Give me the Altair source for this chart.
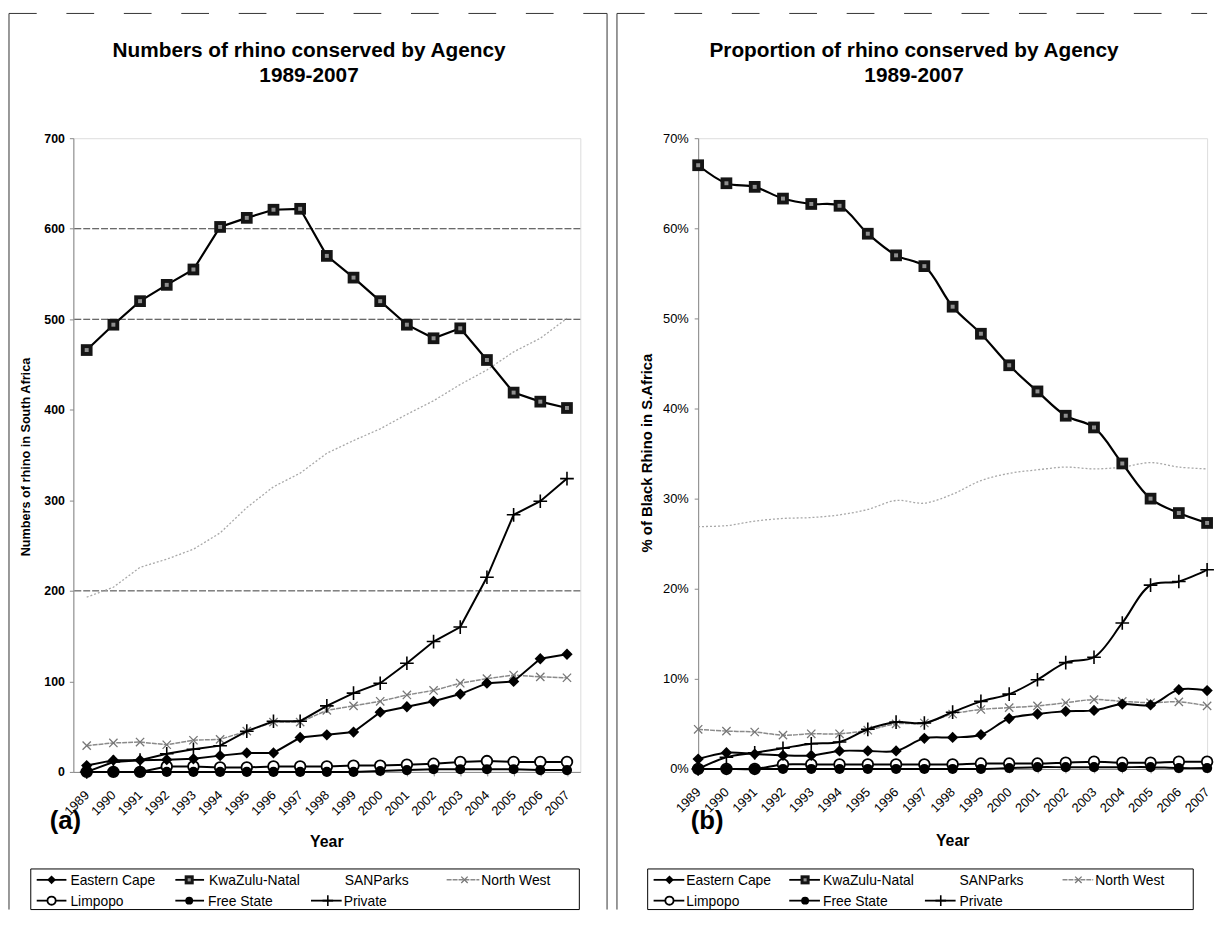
import altair as alt
import pandas as pd

# ---------------- data ----------------
years = ["1989", "1990", "1991", "1992", "1993", "1994", "1995", "1996", "1997", "1998",
         "1999", "2000", "2001", "2002", "2003", "2004", "2005", "2006", "2007"]
agencies = ["Eastern Cape", "KwaZulu-Natal", "SANParks", "North West", "Limpopo", "Free State", "Private"]

# panel (a): numbers of rhino
a_eastern_cape = [7, 13, 13, 13.5, 14.5, 18, 21, 21, 38, 41, 44, 66, 72, 78, 86, 98, 100, 125, 130]
a_kwazulu_natal = [466, 494, 520, 538, 555, 602, 612, 621, 622, 570, 546, 520, 494, 479, 490, 455, 419, 409, 402]
a_sanparks = [193, 204, 226, 235, 246, 264, 292, 315, 330, 352, 366, 379, 395, 410, 428, 444, 464, 479, 501]
a_north_west = [29, 32, 33, 30, 35, 36, 45, 55, 55, 68, 73, 78, 85, 90, 98, 103, 107, 105, 104]
a_limpopo = [0, 0, 0, 6, 6, 5, 5, 6, 6, 6, 7, 7, 8, 9, 11, 12, 11, 11, 11]
a_free_state = [0, 0, 0, 0, 0, 0, 0, 0, 0, 0, 0, 1, 2, 3, 3, 3, 3, 2, 2]
a_private = [0, 11, 13, 20, 25, 29, 45, 56, 56, 73, 87, 98, 120, 144, 160, 215, 284, 299, 324]

# panel (b): % of black rhino in S.Africa
b_eastern_cape = [1.1, 1.8, 1.65, 1.5, 1.5, 2.0, 2.0, 2.0, 3.4, 3.5, 3.8, 5.6, 6.1, 6.4, 6.5, 7.2, 7.1, 8.8, 8.7]
b_kwazulu_natal = [67.0, 65.0, 64.6, 63.3, 62.7, 62.5, 59.4, 57.0, 55.8, 51.3, 48.3, 44.8, 41.9, 39.2, 37.9, 33.9, 30.0, 28.4, 27.3]
b_sanparks = [26.9, 27.0, 27.5, 27.8, 27.9, 28.2, 28.8, 29.8, 29.5, 30.5, 32.0, 32.8, 33.2, 33.5, 33.3, 33.5, 34.0, 33.5, 33.3]
b_north_west = [4.4, 4.2, 4.1, 3.75, 3.9, 3.9, 4.3, 5.0, 5.1, 6.1, 6.6, 6.8, 7.0, 7.35, 7.7, 7.5, 7.35, 7.45, 7.0]
b_limpopo = [0, 0, 0, 0.5, 0.5, 0.5, 0.5, 0.5, 0.5, 0.5, 0.6, 0.6, 0.6, 0.7, 0.8, 0.7, 0.7, 0.8, 0.8]
b_free_state = [0, 0, 0, 0, 0, 0, 0, 0, 0, 0, 0, 0.1, 0.2, 0.2, 0.2, 0.2, 0.2, 0.1, 0.1]
b_private = [0, 1.3, 1.8, 2.3, 2.8, 3.0, 4.4, 5.2, 5.1, 6.3, 7.5, 8.3, 9.9, 11.8, 12.4, 16.2, 20.4, 20.8, 22.1]

a_ticks = [0, 100, 200, 300, 400, 500, 600, 700]
a_grid = [200, 500, 600]
b_ticks = [0, 10, 20, 30, 40, 50, 60, 70]

title_a = "Numbers of rhino conserved by Agency"
title_b = "Proportion of rhino conserved by Agency"
subtitle = "1989-2007"

# ---------------- styling ----------------
FONT = "Liberation Sans"
PLUS = "M-1,0L1,0M0,-1L0,1"
XSHAPE = "M-1,-1L1,1M-1,1L1,-1"

line_style = {
    "SANParks": dict(color="#a8a8a8", strokeWidth=1.3, strokeDash=[2, 2]),
    "North West": dict(color="#8a8a8a", strokeWidth=1.5, strokeDash=[5, 1]),
    "Limpopo": dict(color="black", strokeWidth=2),
    "Free State": dict(color="black", strokeWidth=2),
    "Eastern Cape": dict(color="black", strokeWidth=2),
    "Private": dict(color="black", strokeWidth=2),
    "KwaZulu-Natal": dict(color="black", strokeWidth=2.2),
}
point_style = {
    "North West": [dict(shape=XSHAPE, filled=False, color="#777777", size=70, strokeWidth=1.3, opacity=1)],
    "Limpopo": [dict(shape="circle", filled=True, fill="white", stroke="black", strokeWidth=1.8, size=115, opacity=1)],
    "Free State": [dict(shape="circle", filled=True, color="black", size=105, opacity=1)],
    "Eastern Cape": [dict(shape="diamond", filled=True, color="black", size=130, opacity=1)],
    "Private": [dict(shape=PLUS, filled=False, color="black", size=190, strokeWidth=1.6, opacity=1)],
    "KwaZulu-Natal": [dict(shape="square", filled=True, color="#151515", size=140, opacity=1),
                      dict(shape="square", filled=True, color="#8f8f8f", size=16, opacity=1)],
}
draw_order = ["SANParks", "North West", "Limpopo", "Free State", "Eastern Cape", "Private", "KwaZulu-Natal"]

ONE = pd.DataFrame({"k": [0]})


def long_df(series):
    rows = []
    for name, vals in zip(agencies, series):
        for yr, v in zip(years, vals):
            rows.append({"Year": yr, "Agency": name, "Value": v})
    return pd.DataFrame(rows)


def txt(s, x, y, size, weight="normal", angle=0, align="center", baseline="middle"):
    return alt.Chart(ONE).mark_text(text=s, fontSize=size, fontWeight=weight, angle=angle, align=align,
                                    baseline=baseline, font=FONT, color="black").encode(
        x=alt.value(x), y=alt.value(y))


def vrule(x, y1, y2, color="#333333", w=1.0, dash=None):
    kw = dict(color=color, strokeWidth=w)
    if dash:
        kw["strokeDash"] = dash
    return alt.Chart(ONE).mark_rule(**kw).encode(x=alt.value(x), y=alt.value(y1), y2=alt.value(y2))


def hrule(x1, x2, y, color="#333333", w=1.0, dash=None):
    kw = dict(color=color, strokeWidth=w)
    if dash:
        kw["strokeDash"] = dash
    return alt.Chart(ONE).mark_rule(**kw).encode(x=alt.value(x1), x2=alt.value(x2), y=alt.value(y))


def legend_layers(box, items_pos, row_y):
    x1, x2, y1, y2 = box
    out = [alt.Chart(ONE).mark_rect(fill="white", stroke="black", strokeWidth=1).encode(
        x=alt.value(x1), x2=alt.value(x2), y=alt.value(y1), y2=alt.value(y2))]
    for name in agencies:
        row, lx1, lx2, mx, tx = items_pos[name]
        y = row_y[row]
        if lx1 is not None:
            ls = dict(line_style[name])
            ls["strokeWidth"] = min(ls["strokeWidth"], 1.8)
            out.append(alt.Chart(ONE).mark_rule(**ls).encode(x=alt.value(lx1), x2=alt.value(lx2), y=alt.value(y)))
        if name in point_style and mx is not None:
            for ps in point_style[name]:
                p = dict(ps)
                p["size"] = p["size"] * 0.6
                out.append(alt.Chart(ONE).mark_point(**p).encode(x=alt.value(mx), y=alt.value(y)))
        out.append(txt(name, tx, y + 1, 14, align="left"))
    return out


def panel(series, width, height, ydomain, yticks, label_expr, pad, interp, grid, deco,
          ylab_size, ylab_weight, ylab_pad):
    df = long_df(series)
    x_enc = alt.X("Year:O", sort=years, scale=alt.Scale(type="point", padding=pad),
                  axis=alt.Axis(title=None, labelAngle=-45, labelAlign="right", labelBaseline="middle",
                                labelPadding=17, labelOverlap=False, labelFontSize=13, tickSize=4))
    y_enc = alt.Y("Value:Q", scale=alt.Scale(domain=ydomain, nice=False, zero=True),
                  axis=alt.Axis(title=None, values=yticks, labelExpr=label_expr, labelFontSize=ylab_size,
                                labelFontWeight=ylab_weight, tickSize=4, labelPadding=ylab_pad, grid=False))
    layers = []
    if grid:
        gdf = pd.DataFrame({"Value": grid})
        layers.append(alt.Chart(gdf).mark_rule(color="#3a3a3a", strokeWidth=1, strokeDash=[7, 2]).encode(y=y_enc))
    for name in draw_order:
        d = df[df.Agency == name]
        layers.append(alt.Chart(d).mark_line(interpolate=interp, **line_style[name]).encode(x=x_enc, y=y_enc))
        for ps in point_style.get(name, []):
            layers.append(alt.Chart(d).mark_point(**ps).encode(x=x_enc, y=y_enc))
    layers += deco
    return alt.layer(*layers).properties(width=width, height=height)


# ---------------- panel (a) ----------------
row_a = {1: 749, 2: 770}
legend_a = {
    "Eastern Cape": (1, -37, -7, -22, -3),
    "KwaZulu-Natal": (1, 103, 132, 117, 137),
    "SANParks": (1, None, None, None, 274),
    "North West": (1, 377, 410, 395, 412),
    "Limpopo": (2, -37, -7, -22, -3),
    "Free State": (2, 103, 132, 117, 136),
    "Private": (2, 240, 271, 257, 273),
}
deco_a = [
    vrule(-65, -126, 779), vrule(539, -126, 779), hrule(-65, 539, -126, dash=[28, 30]),
    txt(title_a, 238, -88, 21, "bold"), txt(subtitle, 238, -63, 21, "bold"),
    txt("Numbers of rhino in South Africa", -48, 322, 12.8, "bold", angle=270),
    txt("(a)", -8, 690, 26, "bold"), txt("Year", 256, 711, 16, "bold"),
] + legend_layers((-43, 511, 738, 779), legend_a, row_a)

panel_a = panel([a_eastern_cape, a_kwazulu_natal, a_sanparks, a_north_west, a_limpopo, a_free_state, a_private],
                512, 640, [0, 700], a_ticks, "datum.value", 0.5, "linear", a_grid, deco_a,
                12.5, "bold", 5)

# ---------------- panel (b) ----------------
row_b = {1: 749, 2: 770}
legend_b = {
    "Eastern Cape": (1, -45, -14, -29, -12),
    "KwaZulu-Natal": (1, 92, 123, 108, 126),
    "SANParks": (1, None, None, None, 264),
    "North West": (1, 368, 399, 384, 401),
    "Limpopo": (2, -45, -14, -29, -12),
    "Free State": (2, 92, 123, 108, 126),
    "Private": (2, 229, 260, 245, 264),
}
deco_b = [
    vrule(-82, -126, 779), hrule(-82, 514, -126, dash=[28, 30]),
    txt(title_b, 218, -88, 21, "bold"), txt(subtitle, 218, -63, 21, "bold"),
    txt("% of Black Rhino in S.Africa", -52, 318, 15, "bold", angle=270),
    txt("(b)", 9, 690, 26, "bold"), txt("Year", 257, 710, 16, "bold"),
] + legend_layers((-51, 500, 738, 779), legend_b, row_b)

panel_b = panel([b_eastern_cape, b_kwazulu_natal, b_sanparks, b_north_west, b_limpopo, b_free_state, b_private],
                514, 637, [0, 70], b_ticks, "datum.value + '%'", 0, "catmull-rom", None, deco_b,
                13, "normal", 6)

chart = alt.hconcat(panel_a, panel_b, spacing=8, padding=0).configure_view(
    stroke="black", strokeWidth=1.2
).configure_axis(
    domainColor="black", tickColor="black", labelColor="black", labelFont=FONT, titleFont=FONT,
    domainWidth=1.2
).configure(background="white")

chart.save("out.html", embed_options={"renderer": "svg", "actions": False})
